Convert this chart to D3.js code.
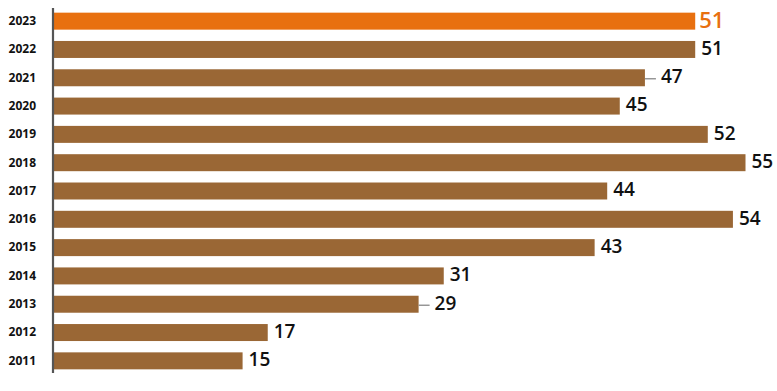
<!DOCTYPE html>
<html><head><meta charset="utf-8">
<script src="https://cdn.jsdelivr.net/npm/d3@7/dist/d3.min.js"></script>
<style>body{margin:0;background:#fff;}svg{display:block;}</style>
</head><body>
<svg id="c" width="777" height="391"></svg>
<script>
const years = ["2023","2022","2021","2020","2019","2018","2017","2016","2015","2014","2013","2012","2011"];
const values = [51,51,47,45,52,55,44,54,43,31,29,17,15];
const leaderYears = ["2021","2013"];
const highlightYear = "2023";

const svg = d3.select("#c");
const x = d3.scaleLinear().domain([0,55]).range([54,745.5]);
const y = d3.scaleBand().domain(years).range([7,375]).paddingInner(0.4).paddingOuter(0.2);

const data = years.map((yr,i)=>({year:yr,value:values[i]}));

svg.selectAll("rect.bar").data(data).enter().append("rect")
  .attr("class","bar")
  .attr("x",x(0))
  .attr("y",d=>y(d.year))
  .attr("width",d=>x(d.value)-x(0))
  .attr("height",y.bandwidth())
  .attr("fill",d=>d.year===highlightYear?"#E8700F":"#9A6735");

svg.selectAll("line.lead").data(data.filter(d=>leaderYears.includes(d.year))).enter().append("line")
  .attr("x1",d=>x(d.value)).attr("x2",d=>x(d.value)+11)
  .attr("y1",d=>y(d.year)+y.bandwidth()/2+1).attr("y2",d=>y(d.year)+y.bandwidth()/2+1)
  .attr("stroke","#888").attr("stroke-width",1.3);

svg.selectAll("text.val").data(data).enter().append("text")
  .attr("class","val")
  .attr("x",d=>x(d.value)+(d.year===highlightYear?4:(leaderYears.includes(d.year)?16:6)))
  .attr("y",d=>y(d.year)+y.bandwidth()/2-1.5)
  .attr("dy","0.36em")
  .attr("font-family","'Open Sans', sans-serif")
  .attr("font-weight",600)
  .attr("font-size",d=>d.year===highlightYear?22:19)
  .attr("fill",d=>d.year===highlightYear?"#E8700F":"#111")
  .text(d=>d.value);

const yAxis = d3.axisLeft(y).tickSize(0).tickPadding(17);
const g = svg.append("g").attr("transform",`translate(53,0)`).call(yAxis);
g.select(".domain").remove();
g.selectAll("text").attr("font-family","'Open Sans', sans-serif").attr("font-weight",700).attr("font-size",12).attr("fill","#111");

svg.append("line").attr("x1",53).attr("x2",53).attr("y1",8).attr("y2",373)
  .attr("stroke","#555").attr("stroke-width",2.2);
</script>
</body></html>
